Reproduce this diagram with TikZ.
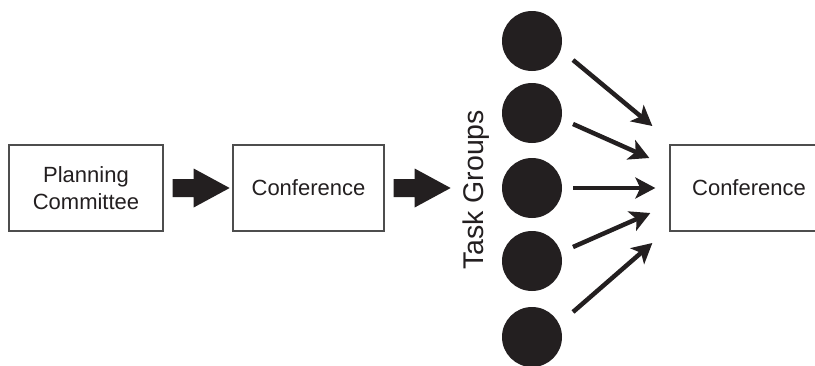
\documentclass[tikz,border=0pt]{standalone}
\usepackage{fontspec}
\setmainfont{Liberation Sans}
\usetikzlibrary{arrows.meta,calc}

\definecolor{ink}{HTML}{231F20}
\definecolor{frame}{HTML}{4D4D4D}

\tikzset{
  x=1pt, y=1pt,
  box/.style={draw=frame, line width=1.3pt, fill=white, minimum height=86pt,
    inner sep=0pt, align=center, text=ink,
    font=\fontsize{22}{27}\selectfont},
  group/.style={circle, fill=ink, minimum size=60pt, inner sep=0pt},
  fatarrow/.pic={
    \fill[ink] (0,9) -- (21,9) -- (21,19.5) -- (57,0) -- (21,-19.5)
      -- (21,-9) -- (0,-9) -- cycle;
  },
  feed/.style={draw=ink, line width=4.5pt,
    -{Stealth[length=20pt, width=21pt, inset=5pt]}}
}

\begin{document}
\begin{tikzpicture}
\useasboundingbox (0,0) rectangle (815,-365);
\clip (0,0) rectangle (815,-365);

% sequence of stages
\node[box, minimum width=154pt] (plan) at (86,-188) {Planning\\Committee};
\node[box, minimum width=151pt] (conf1) at (308.5,-188) {Conference};
\node[box, minimum width=158pt] (conf2) at (749,-188) {Conference};

% block arrows between the stages
\pic (a1) at ($(plan.east)+(9,0)$) {fatarrow};
\pic (a2) at ($(conf1.east)+(9,0)$) {fatarrow};

% task groups
\foreach \i/\y in {1/41, 2/113, 3/188, 4/261, 5/337}
  \node[group] (g\i) at (532,-\y) {};

\node[rotate=90, anchor=base, text=ink, font=\fontsize{28.5}{30}\selectfont]
  (tg) at (483,-190) {Task Groups};

% feeds from each group into the final conference
\coordinate (s1) at ($(g1)+(41,-19)$);
\coordinate (s2) at ($(g2)+(41,-11)$);
\coordinate (s3) at ($(g3)+(41,0)$);
\coordinate (s4) at ($(g4)+(41,14)$);
\coordinate (s5) at ($(g5)+(41,25)$);
\coordinate (t1) at ($(conf2.west)+(-17,62)$);
\coordinate (t2) at ($(conf2.west)+(-20,30)$);
\coordinate (t3) at ($(conf2.west)+(-14,0)$);
\coordinate (t4) at ($(conf2.west)+(-19,-25)$);
\coordinate (t5) at ($(conf2.west)+(-17,-55)$);
\foreach \i in {1,...,5}
  \draw[feed] (s\i) -- (t\i);
\end{tikzpicture}
\end{document}
